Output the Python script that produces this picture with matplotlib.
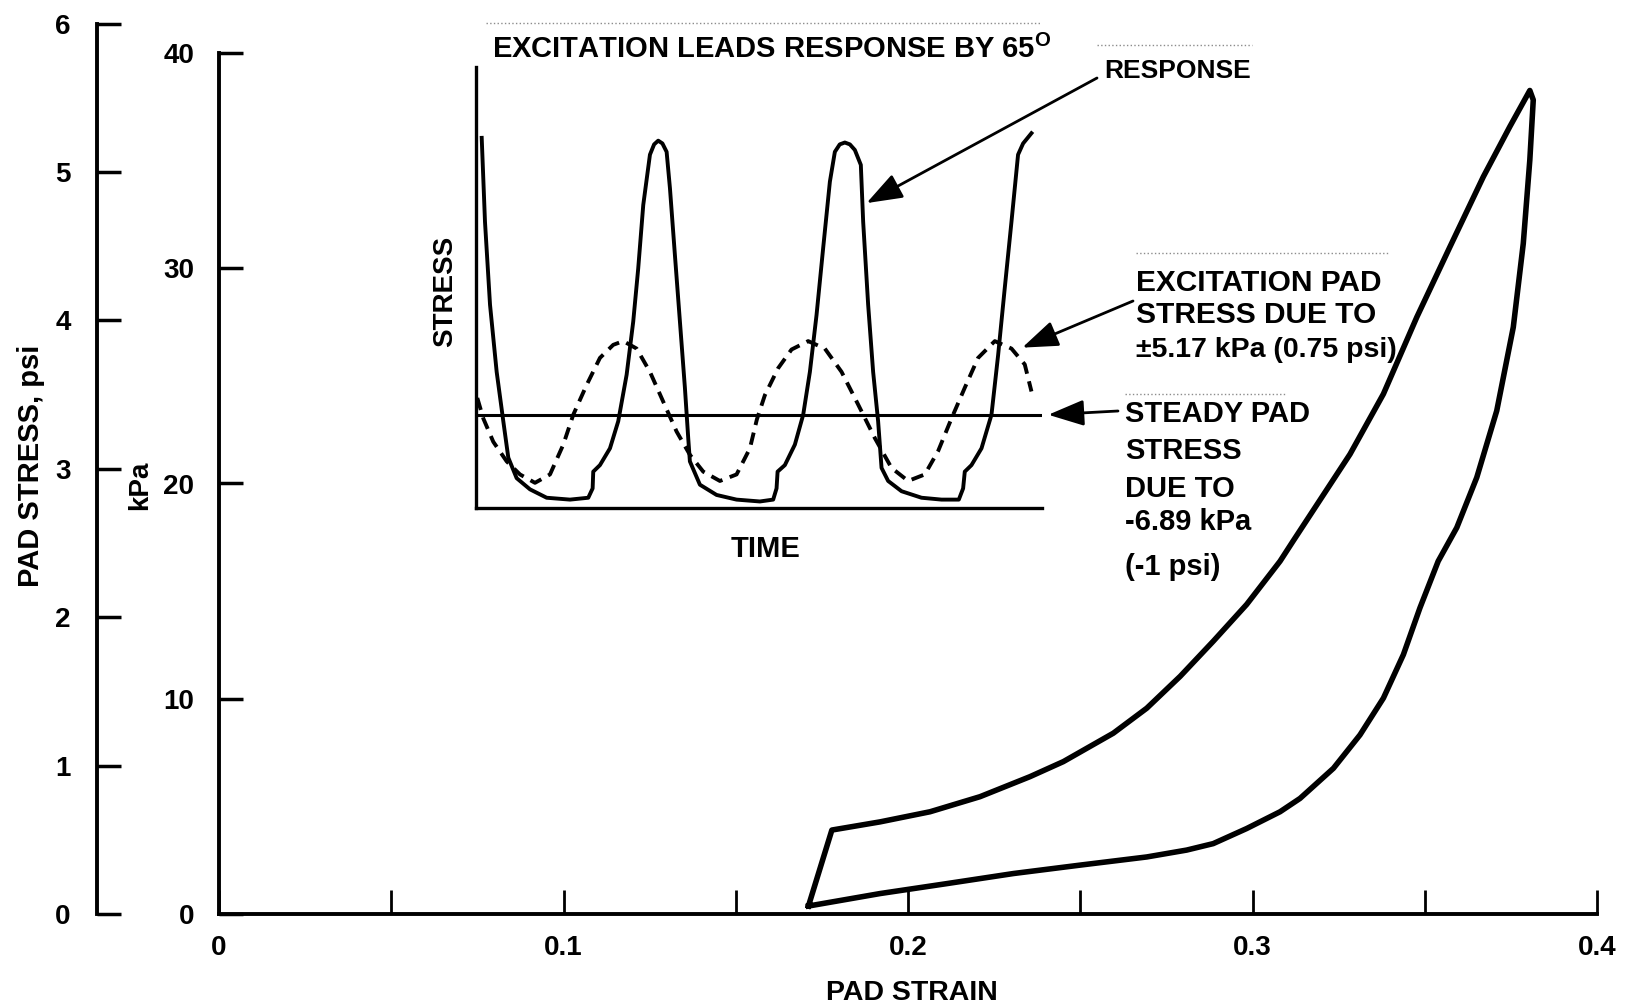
import matplotlib
matplotlib.use('Agg')
import matplotlib.pyplot as plt
from matplotlib.lines import Line2D
from matplotlib.ticker import MultipleLocator

plt.rcParams['font.family'] = ['Liberation Sans', 'DejaVu Sans']
plt.rcParams['font.weight'] = 'bold'
plt.rcParams['mathtext.fontset'] = 'custom'
plt.rcParams['mathtext.rm'] = 'Liberation Sans:bold'
plt.rcParams['mathtext.it'] = 'Liberation Sans:bold'
plt.rcParams['mathtext.bf'] = 'Liberation Sans:bold'

# hysteresis loop: pad strain vs pad stress (kPa)
loop_strain = [0.1711, 0.1779, 0.1919, 0.2064, 0.2209, 0.2354, 0.2451, 0.2596,
               0.2693, 0.2790, 0.2886, 0.2983, 0.3080, 0.3118, 0.3283, 0.3380,
               0.3477, 0.3573, 0.3670, 0.3747, 0.3805,
               0.3815, 0.3805, 0.3786, 0.3757, 0.3709, 0.3651, 0.3593, 0.3539,
               0.3486, 0.3438, 0.3380, 0.3312, 0.3235, 0.3138, 0.3080, 0.2983,
               0.2886, 0.2809, 0.2693, 0.2499, 0.2306, 0.2112, 0.1919, 0.1711]
loop_kpa = [0.37, 3.90, 4.28, 4.75, 5.45, 6.38, 7.08, 8.40,
            9.56, 11.04, 12.67, 14.38, 16.39, 17.33, 21.36, 24.16,
            27.73, 30.99, 34.25, 36.58, 38.26,
            37.82, 35.03, 31.15, 27.26, 23.38, 20.28, 17.95, 16.39,
            14.22, 12.05, 10.03, 8.32, 6.77, 5.37, 4.75, 3.97,
            3.27, 2.97, 2.65, 2.27, 1.88, 1.41, 0.95, 0.37]

# inset: time (deg) vs stress (psi)
resp_t = [11.0, 17.3, 27.0, 39.8, 52.6, 62.2, 78.3, 104.0, 136.1, 181.0, 216.2,
          224.6, 225.8, 238.7, 258.0, 273.9, 290.1, 302.8, 312.4, 322.1, 335.0,
          343.0, 350.9, 359.0, 367.1, 373.5, 383.1, 392.7, 402.3, 408.7, 411.9,
          431.2, 463.3, 501.8, 546.7, 572.3, 578.8, 580.8, 594.8, 614.1, 630.1,
          643.0, 655.8, 668.6, 681.5, 691.1, 700.5, 710.3, 720.0, 729.6, 741.1,
          745.6, 755.2, 764.8, 774.4, 781.0, 793.7, 819.5, 858.0, 896.5, 929.8,
          938.1, 941.3, 954.2, 973.5, 992.7, 1005.5, 1018.3, 1031.2, 1043.9,
          1053.6, 1069.7]
resp_s = [3.97, 3.07, 2.18, 1.46, 0.93, 0.54, 0.32, 0.20, 0.11, 0.09, 0.11,
          0.21, 0.39, 0.46, 0.64, 0.93, 1.43, 2.00, 2.57, 3.25, 3.79,
          3.90, 3.94, 3.91, 3.82, 3.43, 2.71, 2.00, 1.29, 0.75, 0.50,
          0.25, 0.14, 0.09, 0.07, 0.09, 0.21, 0.39, 0.46, 0.68, 1.00,
          1.46, 2.07, 2.79, 3.50, 3.82, 3.90, 3.92, 3.90, 3.84, 3.68,
          3.07, 2.18, 1.46, 0.93, 0.43, 0.29, 0.18, 0.11, 0.09, 0.09,
          0.21, 0.39, 0.46, 0.64, 1.00, 1.64, 2.36, 3.07, 3.79,
          3.91, 4.02]

exc_t = [2.5, 14.1, 33.3, 59.1, 84.7, 113.6, 142.5, 168.1, 187.3, 213.1, 238.7,
         264.3, 283.6, 309.3, 335.0, 360.6, 386.3, 412.0, 437.6, 469.7, 501.8,
         527.5, 540.9, 556.3, 581.9, 607.7, 639.7, 671.8, 704.0, 735.9, 768.1,
         800.2, 832.2, 864.3, 889.9, 915.7, 941.3, 966.9, 999.1, 1031.2, 1056.8,
         1069.7]
exc_s = [1.18, 0.96, 0.71, 0.50, 0.36, 0.27, 0.36, 0.68, 1.00, 1.32, 1.61,
         1.75, 1.79, 1.71, 1.46, 1.14, 0.82, 0.57, 0.39, 0.29, 0.36,
         0.64, 0.95, 1.21, 1.50, 1.70, 1.79, 1.71, 1.46, 1.11, 0.75,
         0.43, 0.29, 0.36, 0.61, 0.96, 1.29, 1.61, 1.79, 1.71, 1.54,
         1.25]
steady_psi = 1.0

strain_ticks = [0, 0.1, 0.2, 0.3, 0.4]
strain_labels = ['0', '0.1', '0.2', '0.3', '0.4']
kpa_ticks = [0, 10, 20, 30, 40]
psi_ticks = [0, 1, 2, 3, 4, 5, 6]
KPA_PER_PSI = 6.895

W, H = 1630, 1008
fig = plt.figure(figsize=(W / 100, H / 100), dpi=100)


def box(x0, y0, x1, y1):
    # pixel box (origin top-left) -> figure fraction rect
    return [x0 / W, 1 - y1 / H, (x1 - x0) / W, (y1 - y0) / H]


def fxy(x, y):
    return x / W, 1 - y / H


# main axes (kPa)
ax_top, ax_bot = 53, 914
ax = fig.add_axes(box(219, ax_top, 1597, ax_bot))
ax.patch.set_alpha(0)
ax.plot(loop_strain, loop_kpa, color='k', lw=4, solid_joinstyle='round')
ax.set_xlim(0, 0.4)
ax.set_ylim(0, 40)
ax.spines['top'].set_visible(False)
ax.spines['right'].set_visible(False)
ax.spines['left'].set_linewidth(2.8)
ax.spines['bottom'].set_linewidth(2.8)
ax.set_xticks(strain_ticks)
ax.set_xticklabels(strain_labels)
ax.xaxis.set_minor_locator(MultipleLocator(0.05))
ax.tick_params(axis='x', which='both', direction='in', length=17, width=2,
               pad=15, labelsize=20)
ax.set_yticks(kpa_ticks)
ax.tick_params(axis='y', direction='in', length=17, width=2.5, pad=18,
               labelsize=20)

# psi axis, same stress scale as the kPa axis
px_per_kpa = (ax_bot - ax_top) / 40
psi_top = ax_bot - 6 * KPA_PER_PSI * px_per_kpa
ax2 = fig.add_axes(box(97, psi_top, 140, ax_bot))
ax2.patch.set_alpha(0)
ax2.set_ylim(0, 6)
ax2.set_xticks([])
for s in ['top', 'right', 'bottom']:
    ax2.spines[s].set_visible(False)
ax2.spines['left'].set_linewidth(2.8)
ax2.set_yticks(psi_ticks)
ax2.tick_params(axis='y', direction='in', length=17, width=2.5, pad=19,
                labelsize=20)

fig.text(*fxy(31, 466), 'PAD STRESS, psi', rotation=90, ha='center',
         va='center', fontsize=21)
fig.text(*fxy(140, 485), 'kPa', rotation=90, ha='center', va='center',
         fontsize=20)
fig.text(*fxy(912, 993), 'PAD STRAIN', ha='center', va='center', fontsize=20.5)

# inset
ax_in = fig.add_axes(box(476, 67, 1042, 508))
ax_in.patch.set_alpha(0)
ax_in.plot(resp_t, resp_s, color='k', lw=2.8, solid_joinstyle='round')
ax_in.plot(exc_t, exc_s, color='k', lw=2.8, dashes=(3.2, 2.0))
ax_in.axhline(steady_psi, color='k', lw=2.2)
ax_in.set_xlim(0, 1090)
ax_in.set_ylim(0, 4.73)
ax_in.set_xticks([])
ax_in.set_yticks([])
ax_in.spines['top'].set_visible(False)
ax_in.spines['right'].set_visible(False)
ax_in.spines['left'].set_linewidth(2.4)
ax_in.spines['bottom'].set_linewidth(2.4)

fig.text(*fxy(492, 49), 'EXCITATION LEADS RESPONSE BY 65$^{\\mathrm{O}}$',
         ha='left', va='center', fontsize=21)
fig.text(*fxy(445, 291), 'STRESS', rotation=90, ha='center', va='center',
         fontsize=20)
fig.text(*fxy(766, 549), 'TIME', ha='center', va='center', fontsize=21)

arrow = dict(arrowstyle='-|>,head_length=1.1,head_width=0.4', color='k',
             lw=2, mutation_scale=20, shrinkA=0, shrinkB=0)
ax_in.annotate('', xy=(752, 3.27), xytext=fxy(1097, 78),
               textcoords='figure fraction', arrowprops=arrow,
               annotation_clip=False)
ax_in.annotate('', xy=(1052, 1.72), xytext=fxy(1133, 301),
               textcoords='figure fraction', arrowprops=arrow,
               annotation_clip=False)
ax_in.annotate('', xy=(1102, steady_psi), xytext=fxy(1118, 411),
               textcoords='figure fraction', arrowprops=arrow,
               annotation_clip=False)

fig.text(*fxy(1104, 71), 'RESPONSE', ha='left', va='center', fontsize=19)

exc_lines = ['EXCITATION PAD', 'STRESS DUE TO', '\u00b15.17 kPa (0.75 psi)']
exc_sizes = [21.5, 21.5, 20.5]
for txt, y, fs in zip(exc_lines, [283, 315, 350], exc_sizes):
    fig.text(*fxy(1136, y), txt, ha='left', va='center', fontsize=fs)

steady_lines = ['STEADY PAD', 'STRESS', 'DUE TO', '-6.89 kPa', '(-1 psi)']
for txt, y in zip(steady_lines, [414, 451, 489, 522, 567]):
    fig.text(*fxy(1125, y), txt, ha='left', va='center', fontsize=21)

# faint dotted rules left by the scan
for x0, x1, y in [(486, 1040, 23), (1097, 1252, 45), (1136, 1388, 253),
                  (1125, 1286, 394)]:
    fig.add_artist(Line2D([x0 / W, x1 / W], [1 - y / H, 1 - y / H],
                          transform=fig.transFigure, color='0.55', lw=1,
                          ls=':'))

fig.savefig('out.png', dpi=100, facecolor='white')
